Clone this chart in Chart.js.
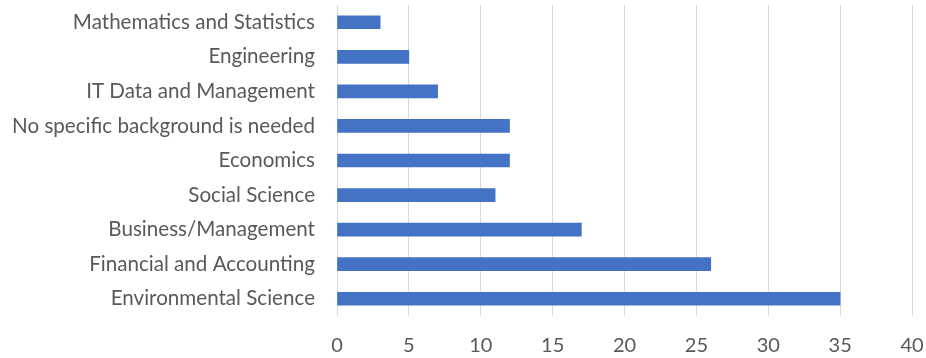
<!DOCTYPE html>
<html>
<head>
<meta charset="utf-8">
<script src="https://cdn.jsdelivr.net/npm/chart.js@4"></script>
<style>
html,body{margin:0;padding:0;background:#fff;}
#wrap{width:926px;height:358px;position:relative;}
</style>
</head>
<body>
<div id="wrap"><canvas id="c" width="926" height="358"></canvas></div>
<script>
const categories = [
  "Mathematics and Statistics",
  "Engineering",
  "IT Data and Management",
  "No specific background is needed",
  "Economics",
  "Social Science",
  "Business/Management",
  "Financial and Accounting",
  "Environmental Science"
];
const counts = [3, 5, 7, 12, 12, 11, 17, 26, 35];
const xTicks = [0, 5, 10, 15, 20, 25, 30, 35, 40];

const FONT = "Lato, 'Liberation Sans', sans-serif";
new Chart(document.getElementById('c'), {
  type: 'bar',
  data: {
    labels: categories,
    datasets: [{
      data: counts,
      backgroundColor: '#4472C4',
      borderWidth: 0,
      barThickness: 13
    }]
  },
  options: {
    indexAxis: 'y',
    responsive: false,
    animation: false,
    layout: { padding: { top: 5, right: 14, left: 0, bottom: 0 } },
    plugins: { legend: { display: false }, tooltip: { enabled: false } },
    scales: {
      x: {
        min: xTicks[0], max: xTicks[xTicks.length - 1],
        afterBuildTicks: (ax) => { ax.ticks = xTicks.map(v => ({ value: v })); },
        grid: { color: '#D9D9D9', lineWidth: 1, drawTicks: false },
        border: { display: false },
        ticks: { color: '#595959', font: { family: FONT, size: 20 }, padding: 18 },
        afterFit: (ax) => { ax.height = 42; ax.paddingLeft = 0; ax.paddingRight = 0; }
      },
      y: {
        grid: { display: false, drawTicks: false },
        border: { display: false },
        ticks: { color: '#595959', font: { family: FONT, size: 20.6 }, padding: 22, autoSkip: false },
        afterFit: (ax) => { ax.width = 337; ax.paddingTop = 0; ax.paddingBottom = 0; }
      }
    }
  }
});
</script>
</body>
</html>
